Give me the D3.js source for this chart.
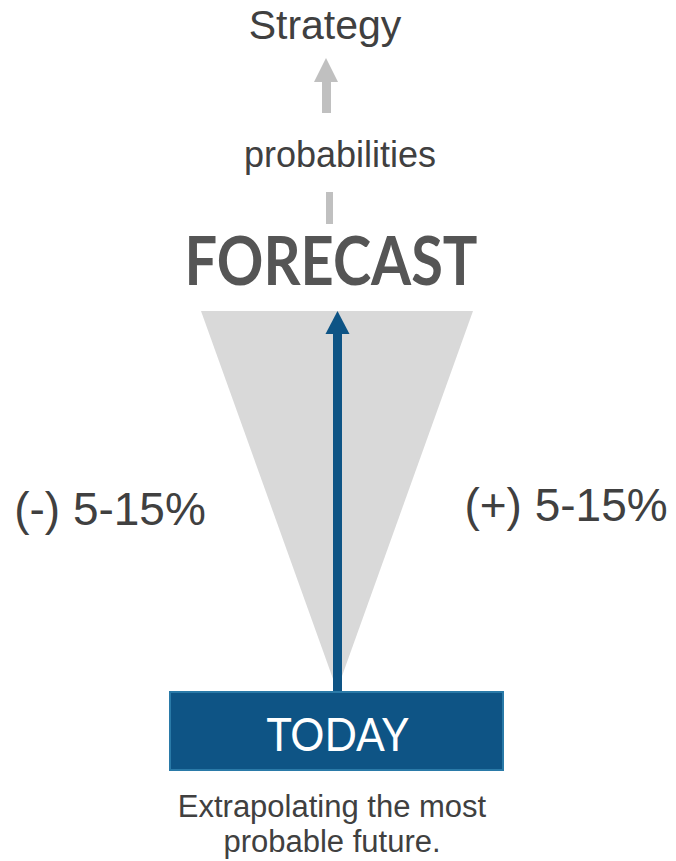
<!DOCTYPE html>
<html>
<head>
<meta charset="utf-8">
<script src="https://cdn.jsdelivr.net/npm/d3@7"></script>
<style>
  html, body { margin: 0; padding: 0; background: #fff; }
  svg { display: block; }
  text.sans { font-family: "Liberation Sans", Arial, sans-serif; }
</style>
</head>
<body>
<div id="chart"></div>
<script>
// data
var stages = ["TODAY", "FORECAST"];           // time axis: 0 = today, 1 = forecast
var spread = [-15, 15];                        // deviation range in %
var spreadLabels = ["(-) 5-15%", "(+) 5-15%"];
var topLabels = ["probabilities", "Strategy"];
var noteLines = ["Extrapolating the most", "probable future."];

var width = 676, height = 861;

var svg = d3.select("#chart").append("svg")
    .attr("width", width)
    .attr("height", height);

// scales
var xScale = d3.scaleLinear().domain(spread).range([201, 473]);
var yScale = d3.scaleLinear().domain([0, 1]).range([690, 311]);

// cone of uncertainty
var cone = [[0, 0], [1, spread[0]], [1, spread[1]]];
svg.append("path")
    .attr("d", d3.line().x(d => xScale(d[1])).y(d => yScale(d[0]))(cone) + "Z")
    .attr("fill", "#d9d9d9");

// blue arrow today -> forecast
var cx = xScale(0) + 0.5;
svg.append("rect")
    .attr("x", cx - 4.5)
    .attr("y", yScale(1) + 20)
    .attr("width", 9)
    .attr("height", yScale(0) - yScale(1) - 18)
    .attr("fill", "#0e5485");
svg.append("path")
    .attr("d", `M${cx},${yScale(1)} L${cx + 12},${yScale(1) + 23} L${cx - 12},${yScale(1) + 23} Z`)
    .attr("fill", "#0e5485");

// today box
svg.append("rect")
    .attr("x", 170)
    .attr("y", 692)
    .attr("width", 333)
    .attr("height", 78)
    .attr("fill", "#0e5485")
    .attr("stroke", "#2a7aa8")
    .attr("stroke-width", 2);
svg.append("text")
    .attr("x", cx)
    .attr("y", 751)
    .attr("text-anchor", "middle")
    .attr("font-family", "Lato, sans-serif")
    .attr("font-size", 46)
    .attr("fill", "#fff")
    .attr("textLength", 142)
    .attr("lengthAdjust", "spacingAndGlyphs")
    .text(stages[0]);

// forecast title
svg.append("text")
    .attr("x", 331)
    .attr("y", 285)
    .attr("text-anchor", "middle")
    .attr("font-family", "Lato, sans-serif")
    .attr("font-weight", 700)
    .attr("font-size", 66)
    .attr("fill", "#555555")
    .attr("textLength", 293)
    .attr("lengthAdjust", "spacingAndGlyphs")
    .text(stages[1]);

// spread labels
svg.selectAll("text.spread")
    .data(spreadLabels)
    .enter()
    .append("text")
    .attr("class", "spread sans")
    .attr("x", (d, i) => i === 0 ? 110 : 566)
    .attr("y", (d, i) => i === 0 ? 525 : 521)
    .attr("text-anchor", "middle")
    .attr("font-size", 46)
    .attr("fill", "#404040")
    .text(d => d);

// grey arrow forecast -> strategy (dashed look)
svg.append("rect")
    .attr("x", 326).attr("y", 192).attr("width", 7).attr("height", 32)
    .attr("fill", "#c0c0c0");
svg.append("rect")
    .attr("x", 322).attr("y", 80).attr("width", 9).attr("height", 33)
    .attr("fill", "#c0c0c0");
svg.append("path")
    .attr("d", "M326,58 L338,82 L314,82 Z")
    .attr("fill", "#c0c0c0");

// top labels
svg.append("text")
    .attr("class", "sans")
    .attr("x", 340)
    .attr("y", 167)
    .attr("text-anchor", "middle")
    .attr("font-size", 36)
    .attr("fill", "#404040")
    .text(topLabels[0]);
svg.append("text")
    .attr("class", "sans")
    .attr("x", 325)
    .attr("y", 39)
    .attr("text-anchor", "middle")
    .attr("font-size", 41)
    .attr("fill", "#404040")
    .text(topLabels[1]);

// note
svg.append("text")
    .attr("class", "sans")
    .attr("x", 332)
    .attr("y", 817)
    .attr("text-anchor", "middle")
    .attr("font-size", 31)
    .attr("fill", "#404040")
    .selectAll("tspan")
    .data(noteLines)
    .enter()
    .append("tspan")
    .attr("x", 332)
    .attr("dy", (d, i) => i === 0 ? 0 : 35)
    .text(d => d);
</script>
</body>
</html>
